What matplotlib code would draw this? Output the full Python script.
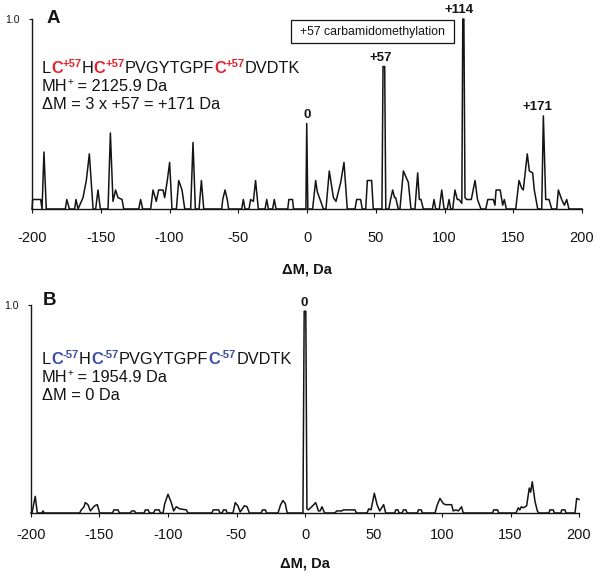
import matplotlib
matplotlib.use('Agg')
import matplotlib.pyplot as plt
from matplotlib.patches import Rectangle
import numpy as np

plt.rcParams['font.family'] = ['Liberation Sans', 'DejaVu Sans']

# ---------------- data ----------------
xticks = [-200, -150, -100, -50, 0, 50, 100, 150, 200]
xtick_labels = ['-200', '-150', '-100', '-50', '0', '50', '100', '150', '200']
ytick = [1.0]
ytick_labels = ['1.0']

# Panel A trace (delta mass, Da ; relative intensity)
dm_A = [-200, -199.5, -198, -193.7, -192.7, -191.3, -189.6,
        -175.8, -174.7, -172.8,
        -169, -168, -166.5,
        -162.9, -160.5, -158.3, -155.6,
        -153.7, -152, -150.3,
        -144.7, -143, -141.1, -139.2, -137.5, -134.5, -133.3,
        -122.4, -121, -119.5,
        -113.7, -112, -109.6, -107.9, -104.7, -103.5, -101.6, -99.9, -98.2,
        -95, -93.3, -90.9, -88.9,
        -84.6, -82.9, -81.2,
        -78.5, -76.8, -75.1,
        -62, -61.3, -59.6, -58, -57,
        -47.5, -46.3, -45.1,
        -42.2, -41, -39, -37.4, -35.4,
        -30.5, -29.3, -28.1,
        -25, -23.8, -22.5,
        -14, -13.2, -10.5, -9.8,
        -0.8, -0.2, 0.6,
        4.1, 6.3, 7.5, 9.5, 11.9,
        13.8, 16.2, 19.2, 21.1, 24.5, 26.9, 29.3,
        34.9, 36.1, 39, 40.2,
        42.7, 43.9, 47, 48.2,
        54.5, 55.3, 56.5, 57.3,
        59.5, 60.8, 62.3, 63.7, 64.5, 66.4,
        67.6, 70.1, 72.5, 73.7, 75.6,
        78.5, 80.5, 81.7, 82.9, 84.6,
        91.2, 92.4, 93.6,
        96.2, 98, 99.7,
        102, 103.3, 104.5,
        106, 107.6, 109.3, 110.5, 112.6, 113.3, 114.1, 114.9, 116.1, 119.5, 122.2, 124, 126.5,
        130, 131.5, 135.5, 136.7, 137.5, 140.5, 142.3, 143.5, 145,
        151.8, 154.2, 156.1, 157.3, 160.2, 161.7, 164.1, 165.3, 167.8,
        170.7, 171.9, 173.6, 174.3, 176, 178,
        181.6, 182.8, 185.2, 187.2, 188.9, 190.5,
        200]
int_A = [0, 0.05, 0.05, 0.05, 0, 0.30, 0,
         0, 0.05, 0,
         0, 0.05, 0,
         0.06, 0.15, 0.29, 0,
         0, 0.10, 0,
         0, 0.40, 0.04, 0.10, 0.06, 0.05, 0,
         0, 0.05, 0,
         0, 0.10, 0.04, 0.10, 0.10, 0.06, 0.15, 0.245, 0,
         0, 0.15, 0.10, 0,
         0, 0.35, 0,
         0, 0.15, 0,
         0, 0.05, 0.10, 0.05, 0,
         0, 0.05, 0,
         0, 0.05, 0.04, 0.15, 0,
         0, 0.05, 0,
         0, 0.05, 0,
         0, 0.05, 0.05, 0,
         0, 0.45, 0,
         0, 0.15, 0.09, 0.05, 0,
         0, 0.20, 0.06, 0.04, 0.14, 0.245, 0,
         0, 0.05, 0.05, 0,
         0, 0.15, 0.15, 0,
         0, 0.75, 0.75, 0,
         0, 0.05, 0.10, 0.06, 0.06, 0,
         0, 0.20, 0.16, 0.14, 0,
         0, 0.19, 0.05, 0.05, 0,
         0, 0.05, 0,
         0, 0.10, 0,
         0, 0.05, 0,
         0, 0.10, 0.05, 0.05, 0.03, 1.0, 1.0, 0.06, 0.05, 0.05, 0.15, 0.05, 0,
         0, 0.05, 0.05, 0.02, 0.10, 0.10, 0.02, 0.05, 0,
         0, 0.15, 0.11, 0.10, 0.29, 0.20, 0.19, 0.10, 0,
         0, 0.49, 0.05, 0.05, 0.05, 0,
         0, 0.10, 0.05, 0.02, 0.05, 0,
         0]

# Panel B trace
dm_B = [-200, -199.3, -196.9, -195.4, -192, -191.2, -190.4,
        -164.5, -163.3, -161.3, -160.4, -158.4, -156.7, -153.5, -151.6, -149.9,
        -140.5, -139.5, -136.5, -135.5,
        -127.5, -126.5, -124.5, -123.5,
        -117.5, -116.5, -114.5, -113.5,
        -110.5, -109.5, -106.5, -105.5,
        -103.6, -102.4, -100, -97.6, -95.9, -93.9, -91.5, -86.6, -85.4,
        -68, -67, -63, -62,
        -60.5, -59.5, -57.7, -56.7,
        -52.6, -50.9, -49, -47.3, -44.2, -42.3, -40.6,
        -32, -31, -29, -28,
        -19.7, -17.8, -16.1, -14.4, -13,
        -1.5, -0.6, 0.6, 1.4, 2.4, 4.9, 7.8, 9.8, 11, 12.4, 14.3,
        21.9, 23.1, 26.8, 28, 36.5, 37.5,
        45.3, 46.5, 48.2, 50.6, 52.6, 54.5, 57.4, 58.9,
        65.5, 66.2, 67.9, 68.6,
        71, 71.8, 73.7, 74.5,
        82, 82.7, 84.9, 85.7,
        94.9, 96.6, 98.5, 101, 102.7, 107, 108.2, 110.2, 111.9, 114.3, 115.5,
        137, 137.7, 140.6, 141.3,
        154, 155.7, 156.8, 157.9, 159.5, 161.8, 163.7, 164.7, 165.9, 167.9, 169.6, 170.6,
        178, 178.8, 181.2, 182,
        186.7, 187.4, 189.8, 190.5,
        197.1, 198.3, 200]
int_B = [0, 0, 0.08, 0, 0, 0.01, 0,
         0, 0.015, 0.03, 0.05, 0.04, 0.01, 0.035, 0.04, 0,
         0, 0.015, 0.015, 0,
         0, 0.01, 0.01, 0,
         0, 0.015, 0.015, 0,
         0, 0.015, 0.015, 0,
         0, 0.045, 0.09, 0.05, 0.01, 0.03, 0.02, 0.015, 0,
         0, 0.015, 0.015, 0,
         0, 0.015, 0.015, 0,
         0, 0.05, 0.035, 0.005, 0.035, 0.03, 0,
         0, 0.015, 0.015, 0,
         0, 0.04, 0.06, 0.045, 0,
         0, 0.97, 0.97, 0.02, 0.015, 0.03, 0.05, 0.01, 0.01, 0.03, 0,
         0, 0.01, 0.01, 0.015, 0.015, 0,
         0, 0.02, 0.015, 0.095, 0.04, 0.01, 0.04, 0,
         0, 0.015, 0.015, 0,
         0, 0.015, 0.015, 0,
         0, 0.015, 0.015, 0,
         0, 0.04, 0.07, 0.045, 0.04, 0.04, 0.01, 0.015, 0.01, 0.03, 0,
         0, 0.015, 0.015, 0,
         0, 0.025, 0.015, 0.03, 0.025, 0.035, 0.12, 0.10, 0.15, 0.055, 0.01, 0,
         0, 0.015, 0.015, 0,
         0, 0.015, 0.015, 0,
         0, 0.07, 0.065]

peak_mass_A = [0, 57, 114, 171]
peak_labels_A = ['0', '+57', '+114', '+171']
peak_mass_B = [0]
peak_labels_B = ['0']

# ---------------- figure ----------------
W, H = 600, 577
fig = plt.figure(figsize=(6, 5.77), dpi=100)


def fx(px):
    return px / W


def fy(py):
    return 1 - py / H


INK = '#141414'
RED = '#e8222a'
BLUE = '#3a4ca6'

axA = fig.add_axes([fx(32), fy(209), (582 - 32) / W, (209 - 19) / H])
axB = fig.add_axes([fx(31), fy(513), (579 - 31) / W, (513 - 305) / H])

# (axes, x, y, peak masses, peak labels, axes height px, tick pad pt, xlabel offset px)
panels = [(axA, dm_A, int_A, peak_mass_A, peak_labels_A, 190, 12.5, 53),
          (axB, dm_B, int_B, peak_mass_B, peak_labels_B, 208, 8.0, 44)]

offsets = {'0': 0, '+57': -1.5, '+114': -3, '+171': -4}

for ax, dm, inten, pm, pl, hpx, tpad, xlo in panels:
    ax.plot(dm, inten, color=INK, lw=1.1, clip_on=False)
    ax.set_xlim(-200, 200)
    ax.set_ylim(0, 1.0)
    for s in ['top', 'right']:
        ax.spines[s].set_visible(False)
    for s in ['left', 'bottom']:
        ax.spines[s].set_linewidth(1.0)
        ax.spines[s].set_color(INK)
    ax.set_xticks(xticks)
    ax.set_xticklabels(xtick_labels)
    ax.set_yticks(ytick)
    ax.set_yticklabels(ytick_labels)
    ax.tick_params(axis='x', direction='out', length=3, width=0.8, pad=tpad,
                   labelsize=10.5, colors=INK)
    ax.tick_params(axis='y', direction='out', length=2.5, width=0.8, pad=6,
                   labelsize=7.5, colors=INK)
    ax.set_xlabel('ΔM, Da', fontsize=10.5, fontweight='bold', color=INK)
    ax.xaxis.set_label_coords(0.5, -xlo / hpx)
    dm_arr = np.array(dm)
    in_arr = np.array(inten)
    for m, lab in zip(pm, pl):
        sel = np.abs(dm_arr - m) <= 4
        i = np.argmax(np.where(sel, in_arr, -1))
        ax.annotate(lab, xy=(dm_arr[i], in_arr[i]), xytext=(offsets[lab], 4),
                    textcoords='offset points', ha='center', va='baseline',
                    fontsize=9.5, fontweight='bold', color=INK,
                    annotation_clip=False)

renderer = fig.canvas.get_renderer()


def rich_line(x_px, base_py, segments):
    x = x_px
    for text, size, color, weight, dy in segments:
        t = fig.text(fx(x), fy(base_py - dy), text, fontsize=size, color=color,
                     fontweight=weight, va='baseline', ha='left')
        bb = t.get_window_extent(renderer)
        x = bb.x1


# Panel letters
fig.text(fx(47), fy(23), 'A', fontsize=13.5, fontweight='bold', color=INK,
         va='baseline', ha='left')
fig.text(fx(43), fy(305), 'B', fontsize=13.5, fontweight='bold', color=INK,
         va='baseline', ha='left')

MAIN = 11.8
SUP = 8
rich_line(42, 73, [('L', MAIN, INK, 'normal', 0), ('C', MAIN, RED, 'bold', 0),
                   ('+57', SUP, RED, 'bold', 6), ('H', MAIN, INK, 'normal', 0),
                   ('C', MAIN, RED, 'bold', 0), ('+57', SUP, RED, 'bold', 6),
                   ('PVGYTGPF', MAIN, INK, 'normal', 0), ('C', MAIN, RED, 'bold', 0),
                   ('+57', SUP, RED, 'bold', 6), ('DVDTK', MAIN, INK, 'normal', 0)])
rich_line(42, 91, [('MH', MAIN, INK, 'normal', 0), ('+', 7, INK, 'normal', 6),
                   (' = 2125.9 Da', MAIN, INK, 'normal', 0)])
rich_line(42, 109, [('ΔM = 3 x +57 = +171 Da', MAIN, INK, 'normal', 0)])

rich_line(42, 364, [('L', MAIN, INK, 'normal', 0), ('C', MAIN, BLUE, 'bold', 0),
                    ('-57', SUP, BLUE, 'bold', 6), ('H', MAIN, INK, 'normal', 0),
                    ('C', MAIN, BLUE, 'bold', 0), ('-57', SUP, BLUE, 'bold', 6),
                    ('PVGYTGPF', MAIN, INK, 'normal', 0), ('C', MAIN, BLUE, 'bold', 0),
                    ('-57', SUP, BLUE, 'bold', 6), ('DVDTK', MAIN, INK, 'normal', 0)])
rich_line(42, 382, [('MH', MAIN, INK, 'normal', 0), ('+', 7, INK, 'normal', 6),
                    (' = 1954.9 Da', MAIN, INK, 'normal', 0)])
rich_line(42, 400, [('ΔM = 0 Da', MAIN, INK, 'normal', 0)])

# legend box
rect = Rectangle((fx(291), fy(43)), (454 - 291) / W, (43 - 20) / H,
                 transform=fig.transFigure, facecolor='white', edgecolor=INK, lw=0.9)
fig.add_artist(rect)
fig.text(fx(372.5), fy(31.5), '+57 carbamidomethylation', fontsize=8.8, color=INK,
         ha='center', va='center')

fig.savefig('out.png', dpi=100)
